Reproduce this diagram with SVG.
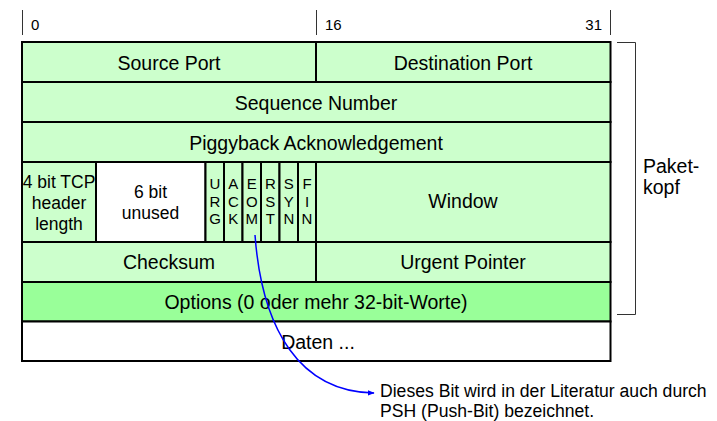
<svg xmlns="http://www.w3.org/2000/svg" width="717" height="421" viewBox="0 0 717 421">
<style>
.f{fill:#CCFFCC;stroke:#000;stroke-width:2}
.o{fill:#99FF99;stroke:#000;stroke-width:2}
.w{fill:#FFFFFF;stroke:#000;stroke-width:2}
.t{font-family:"Liberation Sans",Arial,sans-serif;font-size:19.5px;fill:#000;text-anchor:middle}
.p{font-family:"Liberation Sans",Arial,sans-serif;font-size:19.5px;fill:#000;text-anchor:start}
.s{font-family:"Liberation Sans",Arial,sans-serif;font-size:17.5px;fill:#000;text-anchor:middle}
.l{font-family:"Liberation Sans",Arial,sans-serif;font-size:15px;fill:#000;text-anchor:middle}
.n{font-family:"Liberation Sans",Arial,sans-serif;font-size:15px;fill:#000}
.a{font-family:"Liberation Sans",Arial,sans-serif;font-size:17.6px;fill:#000}
.k{stroke:#333;stroke-width:1;fill:none}
</style>
<defs>
<marker id="ah" viewBox="0 0 10 10" refX="9" refY="5" markerWidth="7" markerHeight="7" markerUnits="userSpaceOnUse" orient="auto">
<path d="M0,1 L10,5 L0,9 Z" fill="#0000FF"/>
</marker>
</defs>
<g id="scale">
<line class="k" x1="22.5" y1="10" x2="22.5" y2="35"/>
<line class="k" x1="316.5" y1="10" x2="316.5" y2="35"/>
<line class="k" x1="610.5" y1="10" x2="610.5" y2="35"/>
<text class="n" x="31" y="30">0</text>
<text class="n" x="325" y="30">16</text>
<text class="n" x="602" y="30" text-anchor="end">31</text>
</g>
<g id="source-port"><rect class="f" x="22" y="42" width="294" height="40"/><text class="t" x="169" y="70">Source Port</text></g>
<g id="destination-port"><rect class="f" x="316" y="42" width="294.5" height="40"/><text class="t" x="463" y="70">Destination Port</text></g>
<g id="sequence-number"><rect class="f" x="22" y="82" width="588.5" height="40"/><text class="t" x="316" y="110">Sequence Number</text></g>
<g id="piggyback"><rect class="f" x="22" y="122" width="588.5" height="40"/><text class="t" x="316" y="150">Piggyback Acknowledgement</text></g>
<g id="header-length"><rect class="f" x="22" y="162" width="74" height="80"/>
<text class="s" x="59" y="188">4 bit TCP</text><text class="s" x="59" y="209">header</text><text class="s" x="59" y="230">length</text></g>
<g id="unused"><rect class="w" x="96" y="162" width="109.5" height="80"/>
<text class="s" x="150.5" y="198">6 bit</text><text class="s" x="150.5" y="219">unused</text></g>
<g id="urg"><rect class="f" x="205.5" y="162" width="18.5" height="80"/>
<text class="l" x="215" y="189">U</text><text class="l" x="215" y="206.5">R</text><text class="l" x="215" y="224">G</text></g>
<g id="ack"><rect class="f" x="224" y="162" width="18.5" height="80"/>
<text class="l" x="233.3" y="189">A</text><text class="l" x="233.3" y="206.5">C</text><text class="l" x="233.3" y="224">K</text></g>
<g id="eom"><rect class="f" x="242.5" y="162" width="18.5" height="80"/>
<text class="l" x="251.8" y="189">E</text><text class="l" x="251.8" y="206.5">O</text><text class="l" x="251.8" y="224">M</text></g>
<g id="rst"><rect class="f" x="261" y="162" width="18.5" height="80"/>
<text class="l" x="270.3" y="189">R</text><text class="l" x="270.3" y="206.5">S</text><text class="l" x="270.3" y="224">T</text></g>
<g id="syn"><rect class="f" x="279.5" y="162" width="18.5" height="80"/>
<text class="l" x="288.8" y="189">S</text><text class="l" x="288.8" y="206.5">Y</text><text class="l" x="288.8" y="224">N</text></g>
<g id="fin"><rect class="f" x="298" y="162" width="18" height="80"/>
<text class="l" x="307" y="189">F</text><text class="l" x="307" y="206.5">I</text><text class="l" x="307" y="224">N</text></g>
<g id="window"><rect class="f" x="316" y="162" width="294.5" height="80"/><text class="t" x="463" y="208">Window</text></g>
<g id="checksum"><rect class="f" x="22" y="242" width="294" height="40"/><text class="t" x="169" y="269">Checksum</text></g>
<g id="urgent-pointer"><rect class="f" x="316" y="242" width="294.5" height="40"/><text class="t" x="463" y="269">Urgent Pointer</text></g>
<g id="options"><rect class="o" x="22" y="282" width="588.5" height="39.5"/><text class="t" x="316" y="309">Options (0 oder mehr 32-bit-Worte)</text></g>
<g id="daten"><rect class="w" x="22" y="321.5" width="588.5" height="39.5"/><text class="t" x="318" y="349">Daten ...</text></g>
<g id="paketkopf">
<path class="k" d="M617,42.5 H635.5 V314.5 H617"/>
<text class="p" x="643" y="173">Paket-</text>
<text class="p" x="643" y="194">kopf</text>
</g>
<g id="connectors">
<path d="M255,235 C262,330 300,392 374,393" fill="none" stroke="#0000FF" stroke-width="1.5" marker-end="url(#ah)"/>
</g>
<g id="note">
<text class="a" x="380" y="396.5">Dieses Bit wird in der Literatur auch durch</text>
<text class="a" x="380" y="416.5">PSH (Push-Bit) bezeichnet.</text>
</g>
</svg>
